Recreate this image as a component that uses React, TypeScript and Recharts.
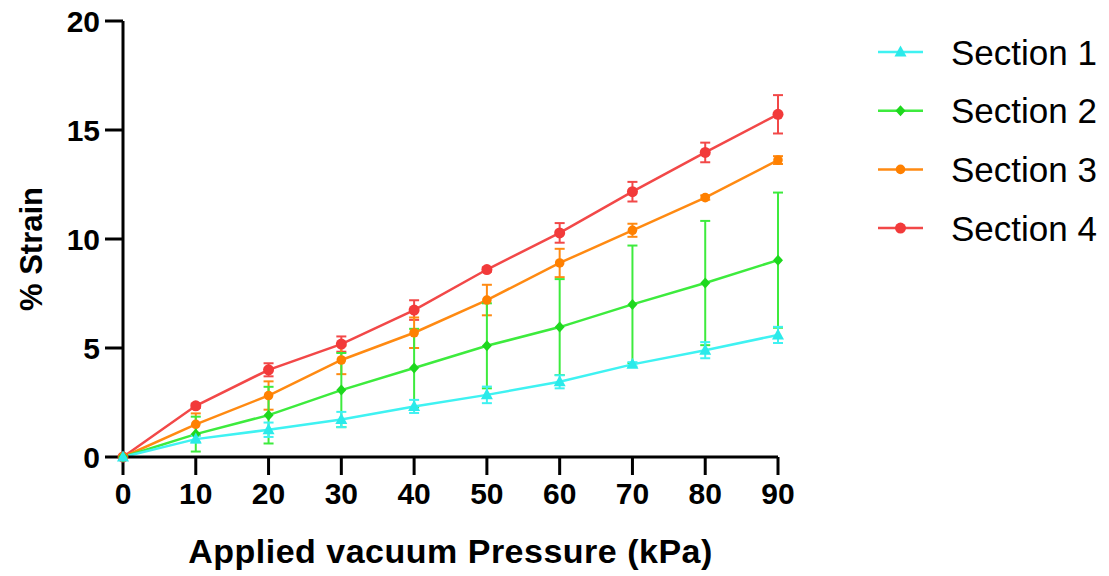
import React from 'react';
import { LineChart, Line, XAxis, YAxis, ErrorBar, Legend } from 'recharts';

const pressure = [0, 10, 20, 30, 40, 50, 60, 70, 80, 90];

const section1 = [0, 0.82, 1.25, 1.72, 2.32, 2.85, 3.45, 4.25, 4.9, 5.6];
const section1Err = [0, 0.15, 0.33, 0.35, 0.3, 0.38, 0.3, 0.1, 0.37, 0.37];

const section2 = [0, 1.05, 1.92, 3.07, 4.08, 5.1, 5.96, 7.0, 7.98, 9.03];
const section2Err = [0, 0.8, 1.3, 1.7, 1.8, 1.95, 2.2, 2.7, 2.85, 3.1];

const section3 = [0, 1.5, 2.82, 4.45, 5.7, 7.2, 8.9, 10.4, 11.9, 13.62];
const section3Err = [0, 0.5, 0.65, 0.65, 0.7, 0.7, 0.65, 0.3, 0.1, 0.18];

const section4 = [0, 2.35, 4.0, 5.18, 6.74, 8.6, 10.28, 12.17, 13.97, 15.72];
const section4Err = [0, 0.1, 0.3, 0.35, 0.45, 0.1, 0.45, 0.45, 0.45, 0.88];

const xTicks = [0, 10, 20, 30, 40, 50, 60, 70, 80, 90];
const yTicks = [0, 5, 10, 15, 20];

const seriesNames = ['Section 1', 'Section 2', 'Section 3', 'Section 4'];
const seriesColors = ['#3FF2F2', '#3DEB3D', '#FF8A12', '#F24848'];
const markerColors = ['#2BEAEA', '#1ED81E', '#FF8000', '#F23A3A'];
const markerShapes = ['triangle', 'diamond', 'circle', 'bigcircle'];

const data = pressure.map((p, i) => ({
  p,
  s1: section1[i],
  e1: section1Err[i],
  s2: section2[i],
  e2: section2Err[i],
  s3: section3[i],
  e3: section3Err[i],
  s4: section4[i],
  e4: section4Err[i],
}));

const FONT = '"Liberation Sans", Arial, Helvetica, sans-serif';

function Marker({ shape, cx, cy, color }: { shape: string; cx: number; cy: number; color: string }) {
  if (cx == null || cy == null) return null;
  if (shape === 'triangle') {
    return <polygon points={`${cx},${cy - 6.5} ${cx - 6},${cy + 4.5} ${cx + 6},${cy + 4.5}`} fill={color} />;
  }
  if (shape === 'diamond') {
    return <polygon points={`${cx},${cy - 5.5} ${cx + 5},${cy} ${cx},${cy + 5.5} ${cx - 5},${cy}`} fill={color} />;
  }
  if (shape === 'circle') {
    return <circle cx={cx} cy={cy} r={4.8} fill={color} />;
  }
  return <circle cx={cx} cy={cy} r={5.5} fill={color} />;
}

const makeDot = (idx: number) => (props: any) => (
  <Marker key={`d${idx}-${props.index}`} shape={markerShapes[idx]} cx={props.cx} cy={props.cy} color={markerColors[idx]} />
);

function LegendBox() {
  return (
    <svg width={239} height={240} style={{ display: 'block' }}>
      {seriesNames.map((name, i) => {
        const y = 32 + i * 58.7;
        return (
          <g key={name}>
            <line x1={8} x2={53} y1={y} y2={y} stroke={seriesColors[i]} strokeWidth={2.5} />
            <Marker shape={markerShapes[i]} cx={30.5} cy={y} color={markerColors[i]} />
            <text
              x={81}
              y={y}
              dominantBaseline="central"
              fontFamily={FONT}
              fontSize={35}
              fill="#000"
            >
              {name}
            </text>
          </g>
        );
      })}
    </svg>
  );
}

const keys = ['s1', 's2', 's3', 's4'];
const errKeys = ['e1', 'e2', 'e3', 'e4'];
const drawOrder = [3, 2, 1, 0];

export default function App() {
  return (
    <div style={{ position: 'absolute', left: 0, top: 0 }}>
      <LineChart width={1109} height={576} data={data} margin={{ top: 21, right: 331, bottom: 0, left: 0 }}>
        <XAxis
          dataKey="p"
          type="number"
          domain={[0, 90]}
          ticks={xTicks}
          interval={0}
          height={119}
          tickSize={18}
          tickMargin={8}
          axisLine={{ stroke: '#000', strokeWidth: 3 }}
          tickLine={{ stroke: '#000', strokeWidth: 3 }}
          tick={{ fill: '#000', fontSize: 30, fontWeight: 'bold', fontFamily: FONT }}
          label={{
            content: (props: any) => {
              const vb = props.viewBox || {};
              const cx = vb.x + vb.width / 2;
              return (
                <text
                  x={cx}
                  y={563}
                  textAnchor="middle"
                  fontFamily={FONT}
                  fontWeight="bold"
                  fontSize={34}
                  letterSpacing={0.5}
                  fill="#000"
                >
                  Applied vacuum Pressure (kPa)
                </text>
              );
            },
          }}
        />
        <YAxis
          type="number"
          domain={[0, 20]}
          ticks={yTicks}
          interval={0}
          width={123}
          tickSize={18}
          tickMargin={5}
          axisLine={{ stroke: '#000', strokeWidth: 3 }}
          tickLine={{ stroke: '#000', strokeWidth: 3 }}
          tick={{ fill: '#000', fontSize: 30, fontWeight: 'bold', fontFamily: FONT }}
          label={{
            content: () => (
              <text
                x={31}
                y={249}
                transform="rotate(-90, 31, 249)"
                textAnchor="middle"
                dominantBaseline="central"
                fontFamily={FONT}
                fontWeight="bold"
                fontSize={31}
                fill="#000"
              >
                % Strain
              </text>
            ),
          }}
        />
        <Legend
          layout="vertical"
          align="center"
          verticalAlign="middle"
          wrapperStyle={{ left: 870, top: 20, width: 239, height: 240 }}
          content={() => <LegendBox />}
        />
        {drawOrder.map((i) => (
          <Line
            key={keys[i]}
            dataKey={keys[i]}
            name={seriesNames[i]}
            stroke={seriesColors[i]}
            strokeWidth={2.5}
            dot={makeDot(i)}
            activeDot={false}
            isAnimationActive={false}
          >
            <ErrorBar dataKey={errKeys[i]} direction="y" width={5} stroke={seriesColors[i]} strokeWidth={2} />
          </Line>
        ))}
      </LineChart>
    </div>
  );
}
